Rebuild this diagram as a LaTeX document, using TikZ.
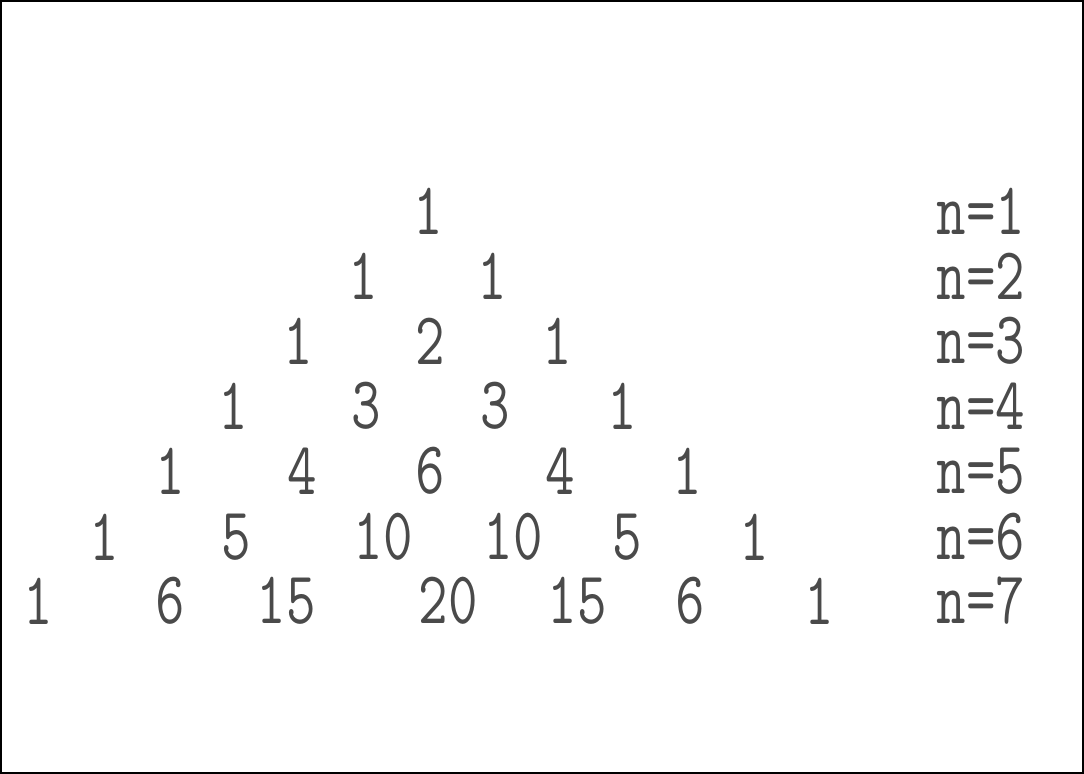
\documentclass[tikz,border=0pt]{standalone}
\usepackage{tikz}
\definecolor{numgray}{HTML}{4A4A4A}
\newcommand{\pt}[1]{\scalebox{0.97}[1.26]{#1}}

\begin{document}
\begin{tikzpicture}[x=0.025cm,y=-0.025cm,
  num/.style={inner sep=0pt,text=numgray,font=\fontsize{42}{48}\selectfont\ttfamily}]
%% frame
\draw[line width=1.4pt](1,1) rectangle (1083,773);
\useasboundingbox (0,0) rectangle (1084,774);
%% row n=1
\node[num] (r1a) at (428,211) {\pt{1}};
%% row n=2
\node[num] (r2a) at (363,276) {\pt{1}};
\node[num] (r2b) at (492,276) {\pt{1}};
%% row n=3
\node[num] (r3a) at (298,341) {\pt{1}};
\node[num] (r3b) at (430,341) {\pt{2}};
\node[num] (r3c) at (557,341) {\pt{1}};
%% row n=4
\node[num] (r4a) at (233,406) {\pt{1}};
\node[num] (r4b) at (366,406) {\pt{3}};
\node[num] (r4c) at (495,406) {\pt{3}};
\node[num] (r4d) at (622,406) {\pt{1}};
%% row n=5
\node[num] (r5a) at (170,471) {\pt{1}};
\node[num] (r5b) at (302,471) {\pt{4}};
\node[num] (r5c) at (430,471) {\pt{6}};
\node[num] (r5d) at (560,471) {\pt{4}};
\node[num] (r5e) at (687,471) {\pt{1}};
%% row n=6
\node[num] (r6a) at (104,537) {\pt{1}};
\node[num] (r6b) at (236,537) {\pt{5}};
\node[num] (r6c) at (383,537) {\pt{10}};
\node[num] (r6d) at (513,537) {\pt{10}};
\node[num] (r6e) at (627,537) {\pt{5}};
\node[num] (r6f) at (754,537) {\pt{1}};
%% row n=7
\node[num] (r7a) at (38,601) {\pt{1}};
\node[num] (r7b) at (170,601) {\pt{6}};
\node[num] (r7c) at (286,601) {\pt{15}};
\node[num] (r7d) at (448,601) {\pt{20}};
\node[num] (r7e) at (577,601) {\pt{15}};
\node[num] (r7f) at (690,601) {\pt{6}};
\node[num] (r7g) at (819,601) {\pt{1}};
%% labels on the right
\node[num] (n1) at (981,211) {\pt{n=1}};
\node[num] (n2) at (981,276) {\pt{n=2}};
\node[num] (n3) at (981,341) {\pt{n=3}};
\node[num] (n4) at (981,406) {\pt{n=4}};
\node[num] (n5) at (981,471) {\pt{n=5}};
\node[num] (n6) at (981,537) {\pt{n=6}};
\node[num] (n7) at (981,601) {\pt{n=7}};
\end{tikzpicture}
\end{document}
